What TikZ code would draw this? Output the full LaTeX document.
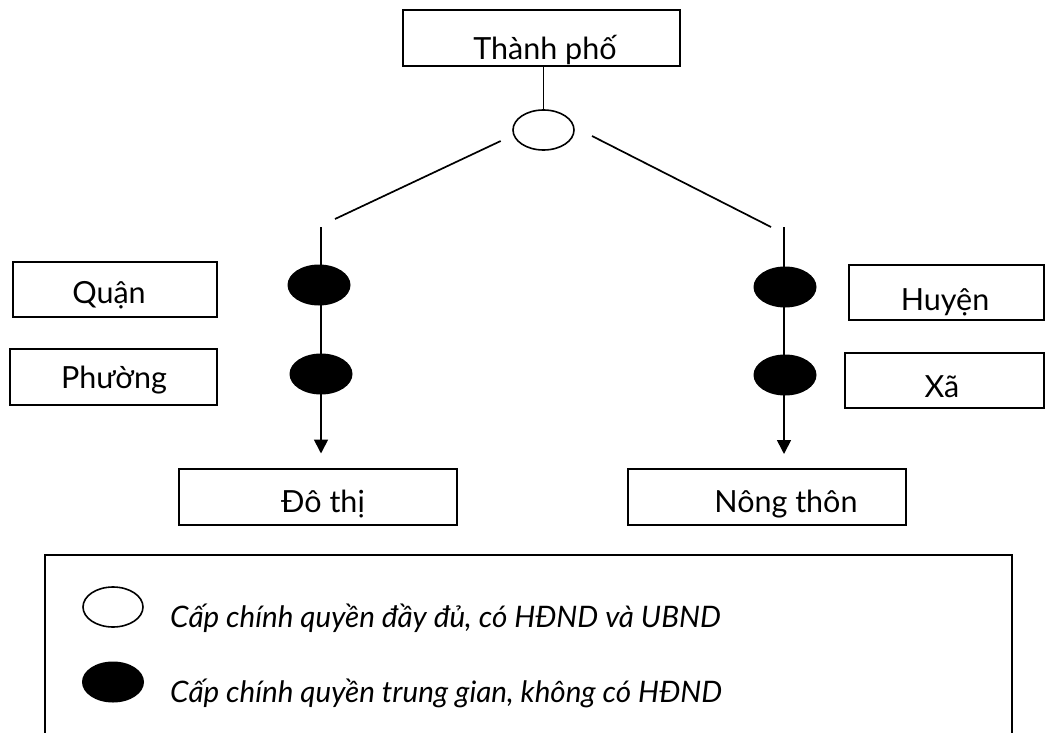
\documentclass[tikz,border=0pt]{standalone}
\usepackage{fontspec}
\setmainfont{Lato}
\usetikzlibrary{shapes.geometric,arrows.meta}
\begin{document}
\begin{tikzpicture}[x=1pt,y=-1pt,
  box/.style={draw, line width=1.6pt, inner sep=0pt},
  lbl/.style={anchor=base, inner sep=0pt, font=\fontsize{30.5pt}{36pt}\selectfont},
  leg/.style={anchor=base west, inner sep=0pt, font=\fontsize{29.6pt}{35pt}\selectfont\itshape},
  oval/.style={ellipse, draw, line width=1.6pt, inner sep=0pt, minimum width=61pt, minimum height=40pt},
  dot/.style={ellipse, fill=black, inner sep=0pt, minimum width=63pt, minimum height=41pt},
  conn/.style={line width=1.7pt},
  arr/.style={line width=1.7pt, -{Triangle[width=14pt,length=14pt]}}]
\useasboundingbox (0,0) rectangle (1046,733);
\clip (0,0) rectangle (1046,733);
% boxes
\node[box, minimum width=277pt, minimum height=56pt] (tp) at (541.5,38) {};
\node[box, minimum width=204pt, minimum height=55pt] (quan) at (115,289.5) {};
\node[box, minimum width=207pt, minimum height=56pt] (phuong) at (113.5,377) {};
\node[box, minimum width=195pt, minimum height=55pt] (huyen) at (946.5,292.5) {};
\node[box, minimum width=199pt, minimum height=55pt] (xa) at (944.5,380.5) {};
\node[box, minimum width=278pt, minimum height=56pt] (dothi) at (318,497) {};
\node[box, minimum width=278pt, minimum height=56pt] (nongthon) at (767,497) {};
\node[box, minimum width=967pt, minimum height=190pt] (legend) at (528.5,650) {};
% texts
\node[lbl] (ttp) at (545,60) {Thành phố};
\node[lbl] (tquan) at (109,303) {Quận};
\node[lbl] (tphuong) at (114,388) {Phường};
\node[lbl] (thuyen) at (945,310) {Huyện};
\node[lbl] (txa) at (942,397) {Xã};
\node[lbl] (tdothi) at (323,512) {Đô thị};
\node[lbl] (tnong) at (786,512) {Nông thôn};
% connectors
\node[oval] (e0) at (543.5,130) {};
\draw[conn] (e0.north |- tp.south) -- (e0.north);
\coordinate (dl1) at (500.7,141);
\coordinate (dl2) at (335,219);
\coordinate (dr1) at (592,136);
\coordinate (dr2) at (771,227);
\draw[conn] (dl1) -- (dl2);
\draw[conn] (dr1) -- (dr2);
\coordinate (la) at (321,227);
\coordinate (lb) at (321,453.5);
\coordinate (ra) at (784,227);
\coordinate (rb) at (784,454);
\draw[arr] (la) -- (lb);
\draw[arr] (ra) -- (rb);
\node[dot] (d1) at (319,285) {};
\node[dot] (d2) at (321,374) {};
\node[dot] (d3) at (785,287) {};
\node[dot] (d4) at (785,375) {};
% legend
\node[oval, minimum width=60pt] (le1) at (113,607) {};
\node[dot, minimum width=62pt] (le2) at (113,682) {};
\node[leg] (lt1) at (170,627) {Cấp chính quyền đầy đủ, có HĐND và UBND};
\node[leg] (lt2) at (170,702) {Cấp chính quyền trung gian, không có HĐND};
\end{tikzpicture}
\end{document}
